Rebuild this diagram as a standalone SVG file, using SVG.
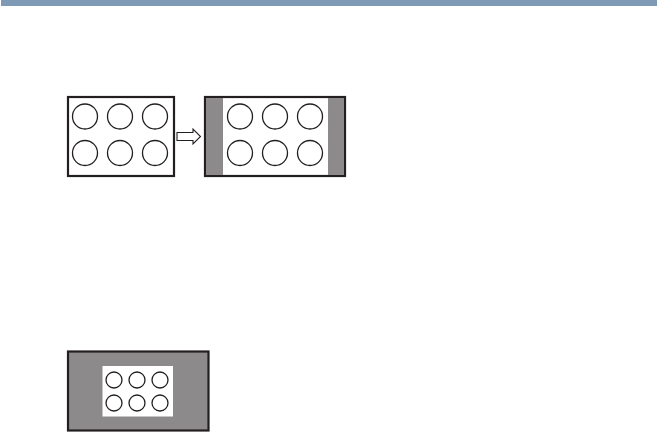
<svg xmlns="http://www.w3.org/2000/svg" width="658" height="432" viewBox="0 0 658 432">
<style>
.frame{fill:#fff;stroke:#231f20;stroke-width:2.2}
.gframe{fill:#8c8a8b;stroke:#231f20;stroke-width:2.2}
.bar{fill:#8c8a8b}
.c{fill:none;stroke:#231f20;stroke-width:1.3}
.arrow{fill:#fff;stroke:#231f20;stroke-width:1.1}
</style>
<rect x="1" y="0" width="656" height="6" fill="#7f9ab4"/>
<g id="source">
<rect class="frame" x="68" y="97" width="106" height="79"/>
<circle class="c" cx="85" cy="116.5" r="12.5"/>
<circle class="c" cx="120" cy="116.5" r="12.5"/>
<circle class="c" cx="155" cy="116.5" r="12.5"/>
<circle class="c" cx="85" cy="153" r="12.5"/>
<circle class="c" cx="120" cy="153" r="12.5"/>
<circle class="c" cx="155" cy="153" r="12.5"/>
</g>
<g id="connectors">
<path class="arrow" d="M177 132.5 H193 V129 L200.5 136.5 L193 144 V140.5 H177 Z"/>
</g>
<g id="sidebars">
<rect class="frame" x="205" y="97" width="140" height="79"/>
<rect class="bar" x="206" y="98" width="17" height="77"/>
<rect class="bar" x="328" y="98" width="16" height="77"/>
<circle class="c" cx="240" cy="116.5" r="12.5"/>
<circle class="c" cx="275" cy="116.5" r="12.5"/>
<circle class="c" cx="310" cy="116.5" r="12.5"/>
<circle class="c" cx="240" cy="153" r="12.5"/>
<circle class="c" cx="275" cy="153" r="12.5"/>
<circle class="c" cx="310" cy="153" r="12.5"/>
</g>
<g id="window">
<rect class="gframe" x="68" y="351.5" width="140.5" height="79"/>
<rect x="102.5" y="366" width="70.5" height="50.5" fill="#fff"/>
<circle class="c" cx="114" cy="380" r="8"/>
<circle class="c" cx="137" cy="380" r="8"/>
<circle class="c" cx="160" cy="380" r="8"/>
<circle class="c" cx="114" cy="403" r="8"/>
<circle class="c" cx="137" cy="403" r="8"/>
<circle class="c" cx="160" cy="403" r="8"/>
</g>
</svg>
